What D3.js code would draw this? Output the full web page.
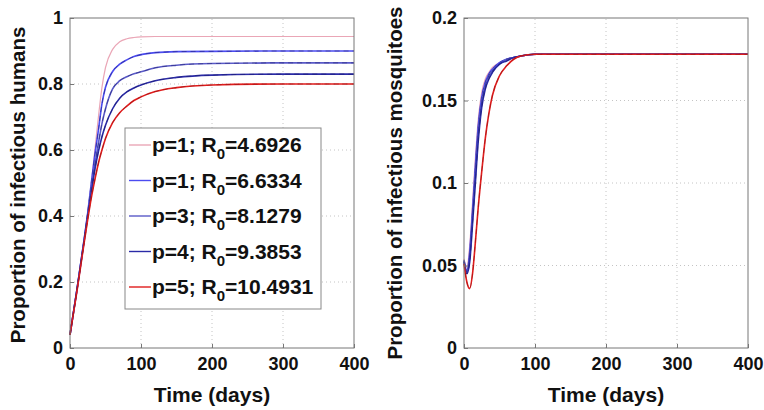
<!DOCTYPE html>
<html>
<head>
<meta charset="utf-8">
<script src="https://cdn.jsdelivr.net/npm/d3@7"></script>
<style>
  body { margin: 0; background: #fff; }
  svg text { font-family: "Liberation Sans", Arial, sans-serif; font-weight: bold; fill: #111; }
</style>
</head>
<body>
<svg id="chart" width="764" height="410"></svg>
<script>
// time samples (days)
const humanT = [0, 10, 20, 25, 30, 35, 40, 45, 50, 60, 70, 80, 90, 100, 120, 150, 200, 300, 400];
// proportion of infectious humans, one array per curve
const humanP1a = [0.04, 0.18, 0.33, 0.41, 0.50, 0.60, 0.70, 0.79, 0.85, 0.905, 0.928, 0.937, 0.941, 0.943, 0.944, 0.944, 0.944, 0.944, 0.944];
const humanP1b = [0.04, 0.18, 0.33, 0.41, 0.50, 0.585, 0.66, 0.74, 0.79, 0.838, 0.86, 0.873, 0.883, 0.889, 0.895, 0.898, 0.899, 0.90, 0.90];
const humanP3 = [0.04, 0.18, 0.33, 0.405, 0.485, 0.555, 0.62, 0.68, 0.725, 0.785, 0.81, 0.822, 0.831, 0.837, 0.849, 0.857, 0.862, 0.864, 0.864];
const humanP4 = [0.04, 0.18, 0.325, 0.40, 0.47, 0.54, 0.595, 0.64, 0.675, 0.725, 0.757, 0.776, 0.788, 0.797, 0.81, 0.82, 0.827, 0.83, 0.83];
const humanP5 = [0.04, 0.175, 0.32, 0.39, 0.455, 0.51, 0.56, 0.60, 0.635, 0.683, 0.713, 0.733, 0.75, 0.761, 0.777, 0.789, 0.797, 0.80, 0.80];

const mosqT = [0, 4, 8, 12, 16, 20, 25, 30, 35, 40, 50, 60, 70, 80, 100, 400];
// proportion of infectious mosquitoes
const mosqP1a = [0.054, 0.049, 0.062, 0.088, 0.115, 0.138, 0.155, 0.163, 0.167, 0.170, 0.173, 0.175, 0.176, 0.177, 0.178, 0.178];
const mosqP1b = [0.053, 0.047, 0.058, 0.083, 0.110, 0.134, 0.152, 0.161, 0.166, 0.169, 0.173, 0.175, 0.176, 0.177, 0.178, 0.178];
const mosqP3 = [0.053, 0.046, 0.055, 0.079, 0.105, 0.130, 0.149, 0.159, 0.165, 0.168, 0.172, 0.175, 0.176, 0.177, 0.178, 0.178];
const mosqP4 = [0.052, 0.045, 0.052, 0.075, 0.100, 0.125, 0.146, 0.157, 0.163, 0.167, 0.172, 0.174, 0.176, 0.177, 0.178, 0.178];
const mosqP5 = [0.051, 0.040, 0.036, 0.045, 0.064, 0.085, 0.107, 0.127, 0.142, 0.153, 0.165, 0.171, 0.175, 0.177, 0.178, 0.178];

const seriesNames = ["p=1; R", "p=1; R", "p=3; R", "p=4; R", "p=5; R"];
const seriesR0 = ["4.6926", "6.6334", "8.1279", "9.3853", "10.4931"];
const seriesColors = ["#eaa6b6", "#4b4bf0", "#5a5ac8", "#2a2aa6", "#e01c1c"];

const xTicks = [0, 100, 200, 300, 400];
const humanTicks = [0, 0.2, 0.4, 0.6, 0.8, 1];
const mosqTicks = [0, 0.05, 0.1, 0.15, 0.2];

const svg = d3.select("#chart");

function drawPanel(opts) {
  const x = d3.scaleLinear().domain([0, 400]).range([opts.left, opts.right]);
  const y = d3.scaleLinear().domain(opts.yDomain).range([348, 18]);
  const g = svg.append("g");

  // grid
  g.selectAll(".gx").data(xTicks.slice(1, -1)).join("line")
    .attr("x1", d => x(d)).attr("x2", d => x(d))
    .attr("y1", y.range()[0]).attr("y2", y.range()[1])
    .attr("stroke", "#c4c4c4").attr("stroke-dasharray", "1,3");
  g.selectAll(".gy").data(opts.yTicks.slice(1, -1)).join("line")
    .attr("x1", opts.left).attr("x2", opts.right)
    .attr("y1", d => y(d)).attr("y2", d => y(d))
    .attr("stroke", "#c4c4c4").attr("stroke-dasharray", "1,3");

  // curves
  const line = d3.line().curve(d3.curveMonotoneX);
  opts.series.forEach((vals, i) => {
    const pts = opts.t.map((t, j) => [x(t), y(vals[j])]);
    g.append("path").attr("d", line(pts))
      .attr("fill", "none").attr("stroke", seriesColors[i])
      .attr("stroke-width", i === 0 ? 1.2 : 1.6);
    if (i > 0) {
      g.append("path").attr("d", line(pts))
        .attr("fill", "none").attr("stroke", i === 4 ? "#7a1010" : "#14145a")
        .attr("stroke-width", 0.8).attr("stroke-dasharray", "5,4")
        .attr("opacity", 0.55);
    }
  });

  // box
  g.append("rect").attr("x", opts.left).attr("y", 18)
    .attr("width", opts.right - opts.left).attr("height", 330)
    .attr("fill", "none").attr("stroke", "#777").attr("stroke-width", 1);

  // axes
  const xAxis = g.append("g").attr("transform", "translate(0,348)")
    .call(d3.axisBottom(x).tickValues(xTicks).tickSize(-4).tickPadding(9).tickFormat(d3.format("d")));
  const yAxis = g.append("g").attr("transform", `translate(${opts.left},0)`)
    .call(d3.axisLeft(y).tickValues(opts.yTicks).tickSize(-4).tickPadding(7).tickFormat(d => String(d)));
  [xAxis, yAxis].forEach(a => {
    a.select(".domain").remove();
    a.selectAll(".tick line").attr("stroke", "#777");
    a.selectAll("text").attr("font-size", 18).attr("fill", "#111")
      .attr("font-family", "Liberation Sans, Arial, sans-serif").attr("font-weight", "bold");
  });

  g.append("text").attr("x", (opts.left + opts.right) / 2).attr("y", 402)
    .attr("text-anchor", "middle").attr("font-size", 21).text("Time (days)");
  g.append("text")
    .attr("transform", `translate(${opts.labelX},${opts.labelY}) rotate(-90)`)
    .attr("text-anchor", "middle").attr("font-size", 20.5).text(opts.yLabel);
  return { x, y };
}

drawPanel({
  left: 70, right: 354, yDomain: [0, 1], yTicks: humanTicks,
  t: humanT, series: [humanP1a, humanP1b, humanP3, humanP4, humanP5],
  yLabel: "Proportion of infectious humans", labelX: 25, labelY: 185
});

drawPanel({
  left: 464, right: 748, yDomain: [0, 0.2], yTicks: mosqTicks,
  t: mosqT, series: [mosqP1a, mosqP1b, mosqP3, mosqP4, mosqP5],
  yLabel: "Proportion of infectious mosquitoes", labelX: 402, labelY: 183
});

// legend
const leg = svg.append("g");
leg.append("rect").attr("x", 125).attr("y", 128).attr("width", 196).attr("height", 181)
  .attr("fill", "#fff").attr("stroke", "#888");
seriesNames.forEach((name, i) => {
  const cy = 145 + i * 35.5;
  leg.append("line").attr("x1", 129).attr("x2", 151).attr("y1", cy).attr("y2", cy)
    .attr("stroke", seriesColors[i]).attr("stroke-width", 1.4);
  const txt = leg.append("text").attr("x", 152).attr("y", cy + 7).attr("font-size", 21);
  txt.append("tspan").text(name);
  txt.append("tspan").attr("font-size", 15).attr("dy", 7).text("0");
  txt.append("tspan").attr("dy", -7).text("=" + seriesR0[i]);
});
</script>
</body>
</html>
